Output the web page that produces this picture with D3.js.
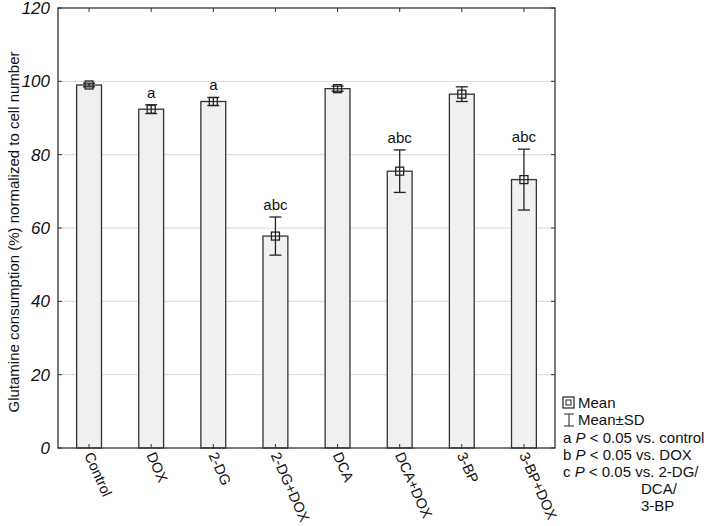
<!DOCTYPE html>
<html lang="en">
<head>
<meta charset="UTF-8">
<title>Glutamine consumption</title>
<script src="https://d3js.org/d3.v7.min.js"></script>
<style>
  body { margin: 0; background: #fff; }
  text { font-family: "Liberation Sans", Arial, sans-serif; fill: #111; }
</style>
</head>
<body>
<div id="chart"></div>
<script>
// Data
const groups = ['Control', 'DOX', '2-DG', '2-DG+DOX', 'DCA', 'DCA+DOX', '3-BP', '3-BP+DOX'];
const means = [99.0, 92.4, 94.5, 57.8, 98.0, 75.5, 96.5, 73.2];
const sds = [0.5, 1.2, 1.1, 5.2, 0.7, 5.8, 2.0, 8.3];
const marks = ['', 'a', 'a', 'abc', '', 'abc', '', 'abc'];
const yTicks = [0, 20, 40, 60, 80, 100, 120];
const legendLines = ['a|P|< 0.05 vs. control', 'b|P|< 0.05 vs. DOX', 'c|P|< 0.05 vs. 2-DG/'];

const width = 709, height = 526;
const m = { left: 58, right: 154, top: 8, bottom: 78 };

const svg = d3.select('#chart').append('svg')
  .attr('width', width).attr('height', height);

const x = d3.scaleBand().domain(groups)
  .range([m.left, width - m.right]).paddingInner(0.6).paddingOuter(0.3);
const y = d3.scaleLinear().domain([0, 120]).range([height - m.bottom, m.top]);

// grid
svg.append('g').selectAll('line')
  .data(yTicks.filter(d => d > 0 && d < 120))
  .enter().append('line')
  .attr('x1', m.left).attr('x2', width - m.right)
  .attr('y1', d => y(d)).attr('y2', d => y(d))
  .attr('stroke', '#d8d8d8').attr('stroke-width', 1);

// bars
svg.append('g').selectAll('rect')
  .data(groups)
  .enter().append('rect')
  .attr('x', d => x(d))
  .attr('y', (d, i) => y(means[i]))
  .attr('width', x.bandwidth())
  .attr('height', (d, i) => y(0) - y(means[i]))
  .attr('fill', '#f0f0f0').attr('stroke', '#333').attr('stroke-width', 1.3);

// error bars
const eb = svg.append('g').attr('stroke', '#222').attr('stroke-width', 1.3).attr('fill', 'none');
groups.forEach((g, i) => {
  const cx = x(g) + x.bandwidth() / 2;
  const hi = y(means[i] + sds[i]), lo = y(means[i] - sds[i]);
  eb.append('rect').attr('x', cx - 4).attr('y', y(means[i]) - 4).attr('width', 8).attr('height', 8);
  eb.append('line').attr('x1', cx).attr('x2', cx).attr('y1', hi).attr('y2', lo);
  eb.append('line').attr('x1', cx - 6).attr('x2', cx + 6).attr('y1', hi).attr('y2', hi);
  eb.append('line').attr('x1', cx - 6).attr('x2', cx + 6).attr('y1', lo).attr('y2', lo);
  if (marks[i]) {
    svg.append('text').attr('x', cx).attr('y', hi - 7)
      .attr('text-anchor', 'middle').attr('font-size', 15).text(marks[i]);
  }
});

// frame
svg.append('rect')
  .attr('x', m.left).attr('y', m.top)
  .attr('width', width - m.left - m.right).attr('height', height - m.top - m.bottom)
  .attr('fill', 'none').attr('stroke', '#333').attr('stroke-width', 1.3);

// inner ticks
const tk = svg.append('g').attr('stroke', '#333').attr('stroke-width', 1);
groups.forEach(g => {
  const cx = x(g) + x.bandwidth() / 2;
  tk.append('line').attr('x1', cx).attr('x2', cx).attr('y1', y(0)).attr('y2', y(0) - 4);
  tk.append('line').attr('x1', cx).attr('x2', cx).attr('y1', m.top).attr('y2', m.top + 4);
});
yTicks.forEach(t => {
  tk.append('line').attr('x1', m.left).attr('x2', m.left + 4).attr('y1', y(t)).attr('y2', y(t));
  tk.append('line').attr('x1', width - m.right).attr('x2', width - m.right - 4).attr('y1', y(t)).attr('y2', y(t));
});

// y tick labels
svg.append('g').selectAll('text')
  .data(yTicks).enter().append('text')
  .attr('x', m.left - 8).attr('y', d => y(d) + 6)
  .attr('text-anchor', 'end').attr('font-size', 17).attr('font-style', 'italic')
  .text(d => d);

// y axis title
svg.append('text')
  .attr('transform', `translate(19,${(y(0) + y(120)) / 2 + 4}) rotate(-90)`)
  .attr('text-anchor', 'middle').attr('font-size', 15)
  .text('Glutamine consumption (%) normalized to cell number');

// x labels
svg.append('g').selectAll('text')
  .data(groups).enter().append('text')
  .attr('transform', d => `translate(${x(d) + x.bandwidth() / 2 - 5},${y(0) + 7}) rotate(66)`)
  .attr('font-size', 14.5).text(d => d);

// legend
const lx = 563;
const lg = svg.append('g');
lg.append('rect').attr('x', lx).attr('y', 397).attr('width', 11).attr('height', 11)
  .attr('fill', 'none').attr('stroke', '#222').attr('stroke-width', 1.2);
lg.append('rect').attr('x', lx + 3).attr('y', 400).attr('width', 5).attr('height', 5)
  .attr('fill', 'none').attr('stroke', '#222').attr('stroke-width', 1);
lg.append('text').attr('x', lx + 15).attr('y', 408).attr('font-size', 15).text('Mean');
lg.append('line').attr('x1', lx + 1).attr('x2', lx + 11).attr('y1', 414).attr('y2', 414).attr('stroke', '#222');
lg.append('line').attr('x1', lx + 1).attr('x2', lx + 11).attr('y1', 426).attr('y2', 426).attr('stroke', '#222');
lg.append('line').attr('x1', lx + 6).attr('x2', lx + 6).attr('y1', 414).attr('y2', 426).attr('stroke', '#222');
lg.append('text').attr('x', lx + 15).attr('y', 425).attr('font-size', 15).text('Mean±SD');
legendLines.forEach((s, i) => {
  const p = s.split('|');
  const t = lg.append('text').attr('x', lx).attr('y', 443 + i * 17).attr('font-size', 15);
  t.append('tspan').text(p[0] + ' ');
  t.append('tspan').attr('font-style', 'italic').text(p[1]);
  t.append('tspan').text(' ' + p[2]);
});
lg.append('text').attr('x', 641).attr('y', 494).attr('font-size', 15).text('DCA/');
lg.append('text').attr('x', 641).attr('y', 511).attr('font-size', 15).text('3-BP');
</script>
</body>
</html>
